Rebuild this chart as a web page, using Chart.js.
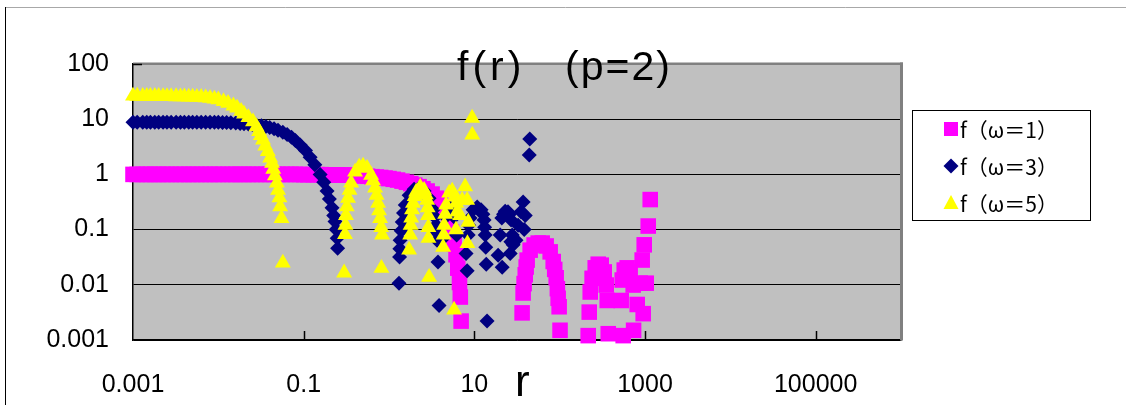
<!DOCTYPE html>
<html>
<head>
<meta charset="utf-8">
<script src="https://cdn.jsdelivr.net/npm/chart.js@4.4.1/dist/chart.umd.min.js"></script>
<style>
  html, body { margin: 0; padding: 0; background: #ffffff; }
  #wrap { width: 1126px; height: 405px; }
</style>
</head>
<body>
<div id="wrap"><canvas id="fChart" width="1126" height="405"></canvas></div>
<script>
// f (omega=1) : r and f values
const rOmega1 = [
  0.001, 0.00112, 0.0013, 0.00145, 0.0016, 0.0018, 0.002, 0.00225, 0.0025, 0.0028,
  0.0032, 0.0036, 0.004, 0.0045, 0.005, 0.0056, 0.0063, 0.0071, 0.008, 0.009,
  0.01, 0.0112, 0.013, 0.0145, 0.016, 0.018, 0.02, 0.0225, 0.025, 0.028,
  0.032, 0.036, 0.04, 0.045, 0.05, 0.056, 0.063, 0.071, 0.08, 0.09,
  0.1, 0.112, 0.13, 0.145, 0.16, 0.18, 0.2, 0.225, 0.25, 0.28,
  0.32, 0.36, 0.4, 0.45, 0.5, 0.56, 0.63, 0.71, 0.8, 0.9,
  1, 1.12, 1.26, 1.42, 1.6, 1.8, 2, 2.25, 2.5, 2.8,
  3.2, 3.6, 4, 4.5, 5, 5.4, 5.8, 6.1, 6.4, 6.7, 6.85, 7.0,
  36.3, 37.3, 38.3, 39.5, 40.5, 41.6, 45.1, 50.2, 56, 62.4,
  69.5, 77.4, 84, 87.5, 91, 94, 96, 98.6, 101,
  216, 222, 228, 240, 261, 283, 307, 333, 351, 361, 371, 555,
  526, 541, 571, 618, 670, 727, 735, 811, 879, 927, 952, 979, 1033, 1091, 1151
];
const fOmega1 = [
  1, 1, 1, 1, 1, 1, 1, 1, 1, 1,
  1, 1, 1, 1, 1, 1, 1, 1, 1, 1,
  1, 1, 1, 1, 1, 1, 1, 1, 1, 1,
  1, 1, 1, 1, 1, 1, 1, 1, 1, 1,
  0.99, 0.99, 0.99, 0.99, 0.99, 0.985, 0.98, 0.98, 0.98, 0.975,
  0.97, 0.965, 0.96, 0.95, 0.94, 0.925, 0.91, 0.895, 0.88, 0.86,
  0.84, 0.815, 0.79, 0.755, 0.72, 0.68, 0.64, 0.6, 0.55, 0.5,
  0.44, 0.37, 0.30, 0.22, 0.13, 0.09, 0.055, 0.035, 0.02, 0.011, 0.006, 0.0022,
  0.0031, 0.0071, 0.0105, 0.0152, 0.021, 0.028, 0.0424, 0.0526, 0.057, 0.057,
  0.0505, 0.0395, 0.0264, 0.019, 0.0134, 0.0085, 0.0057, 0.004, 0.0015,
  0.0012, 0.0032, 0.0074, 0.0131, 0.0203, 0.0236, 0.0227, 0.0171, 0.0099, 0.0052, 0.0013, 0.0012,
  0.0052, 0.0122, 0.0185, 0.0203, 0.0171, 0.0099, 0.0015, 0.0044, 0.0107, 0.0281, 0.003, 0.053, 0.0107, 0.116, 0.35
];

// f (omega=3)
const rOmega3 = [
  0.001, 0.00112, 0.0013, 0.00145, 0.0016, 0.0018, 0.002, 0.00225, 0.0025, 0.0028,
  0.0032, 0.0036, 0.004, 0.0045, 0.005, 0.0056, 0.0063, 0.0071, 0.008, 0.009,
  0.01, 0.0112, 0.0125, 0.014, 0.016, 0.018, 0.02, 0.0225, 0.025, 0.028,
  0.032, 0.036, 0.04, 0.045, 0.05, 0.057, 0.064, 0.072, 0.08, 0.091,
  0.105, 0.119, 0.135, 0.156, 0.172, 0.188, 0.2, 0.215, 0.225, 0.233,
  0.24, 0.247, 0.25,
  1.31, 1.33, 1.34, 1.35, 1.39, 1.43, 1.48, 1.55, 1.72, 1.97,
  2.25, 2.58, 2.95, 3.29, 3.45, 3.57, 3.62, 3.66, 3.75, 3.86,
  4.3, 4.6, 5.2, 5.8, 6.2,
  8.0, 8.24, 8.47, 8.6, 8.93, 9.68, 10.8, 12.0, 12.6, 13.0, 13.2, 13.4, 13.6, 13.8, 14.1,
  19.0, 20.1, 21.0, 21.2, 22, 23, 24.8, 25.8, 26.3, 26.8, 27, 27.8, 28.5,
  30.8, 32.6, 35.2, 37.3, 38.4, 39.5, 44, 44.6
];
const fOmega3 = [
  8.8, 8.8, 8.8, 8.8, 8.8, 8.8, 8.8, 8.8, 8.8, 8.8,
  8.8, 8.8, 8.8, 8.8, 8.8, 8.8, 8.8, 8.8, 8.8, 8.8,
  8.8, 8.75, 8.7, 8.6, 8.5, 8.4, 8.3, 8.15, 8.0, 7.8,
  7.6, 7.35, 7.1, 6.7, 6.3, 5.8, 5.3, 4.7, 4.1, 3.4,
  2.7, 2.05, 1.5, 1.0, 0.72, 0.50, 0.36, 0.25, 0.18, 0.14,
  0.10, 0.07, 0.046,
  0.0107, 0.032, 0.045, 0.064, 0.095, 0.137, 0.2, 0.28, 0.42, 0.54,
  0.57, 0.50, 0.37, 0.23, 0.17, 0.12, 0.09, 0.064, 0.026, 0.0042,
  0.07, 0.17, 0.25, 0.17, 0.08,
  0.037, 0.018, 0.08, 0.12, 0.163, 0.228, 0.257, 0.228, 0.19, 0.15, 0.11, 0.08, 0.048, 0.0235, 0.0022,
  0.0344, 0.08, 0.163, 0.0208, 0.19, 0.215, 0.21, 0.19, 0.037, 0.06, 0.15, 0.08, 0.053,
  0.064, 0.12, 0.21, 0.316, 0.1, 0.18, 2.24, 4.38
];

// f (omega=5)
const rOmega5 = [
  0.001, 0.00112, 0.0013, 0.00145, 0.0016, 0.0018, 0.002, 0.00225, 0.0025, 0.0028,
  0.0032, 0.0036, 0.004, 0.0045, 0.005, 0.0056, 0.0063, 0.0071, 0.008, 0.009,
  0.01, 0.0115, 0.013, 0.015, 0.0166, 0.0185, 0.02, 0.0225, 0.0255, 0.028,
  0.03, 0.0315, 0.0334, 0.0355, 0.038, 0.0405, 0.0426, 0.044, 0.046, 0.0485,
  0.0501, 0.052, 0.053, 0.055, 0.057,
  0.298, 0.305, 0.309, 0.313, 0.32, 0.331, 0.345, 0.36, 0.40, 0.447,
  0.497, 0.553, 0.617, 0.65, 0.687, 0.715, 0.745, 0.765, 0.787, 0.81, 0.83, 0.815,
  1.72, 1.77, 1.79, 1.82, 1.86, 1.91, 2.0, 2.08, 2.32, 2.58,
  2.7, 2.80, 2.84, 2.87, 2.89, 2.9, 2.95,
  4.31, 4.37, 4.43, 4.55, 4.67, 5.07, 5.5, 5.96, 6.15, 6.29, 6.1, 5.79,
  6.82, 7.2, 7.8, 8.24, 8.3, 8.5, 9.42, 9.45
];
const fOmega5 = [
  26.3, 26.25, 26.2, 26.15, 26.1, 26.05, 26, 25.95, 25.9, 25.8,
  25.7, 25.6, 25.5, 25.4, 25.3, 25.15, 25, 24.5, 24, 23.3,
  22.5, 21, 19.5, 17.5, 16, 14, 12.5, 10.8, 9.0, 7.3,
  6.0, 5.1, 4.2, 3.3, 2.6, 2.0, 1.6, 1.25, 0.95, 0.7,
  0.52, 0.38, 0.26, 0.16, 0.025,
  0.0165, 0.082, 0.12, 0.18, 0.26, 0.37, 0.52, 0.70, 1.11, 1.36,
  1.42, 1.30, 0.97, 0.77, 0.57, 0.42, 0.30, 0.22, 0.16, 0.11, 0.08, 0.02,
  0.043, 0.08, 0.12, 0.163, 0.23, 0.30, 0.40, 0.48, 0.59, 0.52,
  0.43, 0.34, 0.25, 0.18, 0.11, 0.07, 0.0138,
  0.048, 0.08, 0.12, 0.19, 0.28, 0.46, 0.50, 0.39, 0.3, 0.21, 0.10, 0.0035,
  0.18, 0.34, 0.60, 0.34, 0.056, 0.137, 10.5, 5.2
];

const xTickValues = [0.001, 0.1, 10, 1000, 100000];
const xTickLabels = ['0.001', '0.1', '10', '1000', '100000'];
const yTickValues = [0.001, 0.01, 0.1, 1, 10, 100];
const yTickLabels = ['0.001', '0.01', '0.1', '1', '10', '100'];
const seriesNames = ['f（ω＝1）', 'f（ω＝3）', 'f（ω＝5）'];
const seriesColors = ['#FF00FF', '#000080', '#FFFF00'];
const titleParts = ['f(r)', '(p=2)'];
const xAxisTitle = 'r';

function toPoints(rs, fs) {
    return rs.map((r, i) => ({ x: r, y: fs[i] }));
}

// legend marker shapes, same look as the plotted points
function drawMarker(ctx, shape, x, y, color) {
    ctx.fillStyle = color;
    ctx.beginPath();
    if (shape === 'rect') {
        ctx.rect(x - 7, y - 7, 14, 14);
    } else if (shape === 'rectRot') {
        ctx.moveTo(x, y - 7.5);
        ctx.lineTo(x + 7.5, y);
        ctx.lineTo(x, y + 7.5);
        ctx.lineTo(x - 7.5, y);
    } else {
        ctx.moveTo(x, y - 8);
        ctx.lineTo(x + 7.5, y + 6);
        ctx.lineTo(x - 7.5, y + 6);
    }
    ctx.closePath();
    ctx.fill();
}

const decorPlugin = {
    id: 'decor',
    beforeDraw(chart) {
        const { ctx, chartArea: a } = chart;
        ctx.save();
        ctx.fillStyle = '#FFFFFF';
        ctx.fillRect(0, 0, chart.width, chart.height);
        ctx.fillStyle = '#C0C0C0';
        ctx.fillRect(a.left, a.top, a.right - a.left, a.bottom - a.top);
        // outer chart frame (top and left edges only are in view)
        ctx.lineWidth = 1;
        ctx.strokeStyle = '#A8A8A8';
        ctx.beginPath();
        ctx.moveTo(5, 7.5);
        ctx.lineTo(chart.width, 7.5);
        ctx.stroke();
        ctx.strokeStyle = '#000000';
        ctx.beginPath();
        ctx.moveTo(5.5, 7);
        ctx.lineTo(5.5, chart.height);
        ctx.stroke();
        ctx.restore();
    },
    beforeDatasetsDraw(chart) {
        const { ctx, chartArea: a, scales } = chart;
        ctx.save();
        ctx.fillStyle = '#808080';
        ctx.fillRect(a.left, a.top - 1.5, a.right - a.left + 2, 2.5);
        ctx.fillRect(a.right - 1, a.top - 1.5, 3, a.bottom - a.top + 2);
        ctx.strokeStyle = '#000000';
        ctx.lineWidth = 1.5;
        ctx.beginPath();
        xTickValues.slice(1).forEach(v => {
            const x = Math.round(scales.x.getPixelForValue(v)) + 0.5;
            ctx.moveTo(x, a.bottom);
            ctx.lineTo(x, a.bottom - 9);
        });
        ctx.moveTo(a.left, a.top + 0.5);
        ctx.lineTo(a.left + 9, a.top + 0.5);
        ctx.stroke();
        ctx.restore();
    },
    afterDraw(chart) {
        const ctx = chart.ctx;
        ctx.save();
        ctx.fillStyle = '#000000';
        ctx.textBaseline = 'alphabetic';
        ctx.textAlign = 'left';
        ctx.font = '41px "Liberation Sans"';
        ctx.letterSpacing = '4px';
        ctx.fillText(titleParts[0], 457, 80);
        ctx.letterSpacing = '2px';
        ctx.fillText(titleParts[1], 565, 80);
        ctx.letterSpacing = '0px';

        ctx.font = '44px "Liberation Sans"';
        ctx.fillText(xAxisTitle, 515, 396);

        // legend box
        ctx.fillStyle = '#FFFFFF';
        ctx.fillRect(912, 110, 179, 111);
        ctx.strokeStyle = '#000000';
        ctx.lineWidth = 1;
        ctx.strokeRect(912.5, 110.5, 178, 110);
        const shapes = ['rect', 'rectRot', 'triangle'];
        const rows = [129, 166, 203];
        ctx.font = '21px "Noto Sans CJK JP"';
        ctx.textBaseline = 'middle';
        seriesNames.forEach((name, i) => {
            drawMarker(ctx, shapes[i], 951, rows[i], seriesColors[i]);
            ctx.fillStyle = '#000000';
            ctx.fillText(name, 960, rows[i] + 1);
        });
        ctx.restore();
    }
};

const ctx = document.getElementById('fChart').getContext('2d');
const chart = new Chart(ctx, {
    type: 'scatter',
    data: {
        datasets: [
            {
                label: seriesNames[0],
                data: toPoints(rOmega1, fOmega1),
                pointStyle: 'rect',
                pointRadius: 11,
                pointHoverRadius: 11,
                backgroundColor: seriesColors[0],
                borderWidth: 0,
                pointBorderWidth: 0,
                clip: false,
                order: 2
            },
            {
                label: seriesNames[1],
                data: toPoints(rOmega3, fOmega3),
                pointStyle: 'rectRot',
                pointRadius: 7.5,
                pointHoverRadius: 7.5,
                backgroundColor: seriesColors[1],
                borderWidth: 0,
                pointBorderWidth: 0,
                clip: false,
                order: 1
            },
            {
                label: seriesNames[2],
                data: toPoints(rOmega5, fOmega5),
                pointStyle: 'triangle',
                pointRadius: 9.2,
                pointHoverRadius: 9.2,
                backgroundColor: seriesColors[2],
                borderWidth: 0,
                pointBorderWidth: 0,
                clip: false,
                order: 0
            }
        ]
    },
    options: {
        responsive: false,
        animation: false,
        events: [],
        layout: {
            padding: { left: 0, top: 64, right: 225, bottom: 0 }
        },
        plugins: {
            legend: { display: false },
            title: { display: false },
            tooltip: { enabled: false }
        },
        scales: {
            x: {
                type: 'logarithmic',
                position: 'bottom',
                min: 0.001,
                max: 1000000,
                afterBuildTicks: (scale) => {
                    scale.ticks = xTickValues.map(v => ({ value: v }));
                },
                afterFit: (scale) => { scale.height = 65; },
                grid: { display: false, drawTicks: false },
                border: { display: true, color: '#000000', width: 1.5 },
                ticks: {
                    color: '#000000',
                    padding: 30,
                    maxRotation: 0,
                    autoSkip: false,
                    font: { family: '"Liberation Sans"', size: 25 },
                    callback: (value, index) => xTickLabels[index]
                }
            },
            y: {
                type: 'logarithmic',
                position: 'left',
                min: 0.001,
                max: 100,
                afterBuildTicks: (scale) => {
                    scale.ticks = yTickValues.map(v => ({ value: v }));
                },
                afterFit: (scale) => { scale.width = 133; },
                grid: { color: '#000000', lineWidth: 1, drawTicks: false },
                border: { display: true, color: '#000000', width: 1.5 },
                ticks: {
                    color: '#000000',
                    padding: 24,
                    autoSkip: false,
                    font: { family: '"Liberation Sans"', size: 25 },
                    callback: (value, index) => yTickLabels[index]
                }
            }
        }
    },
    plugins: [decorPlugin]
});
</script>
</body>
</html>
